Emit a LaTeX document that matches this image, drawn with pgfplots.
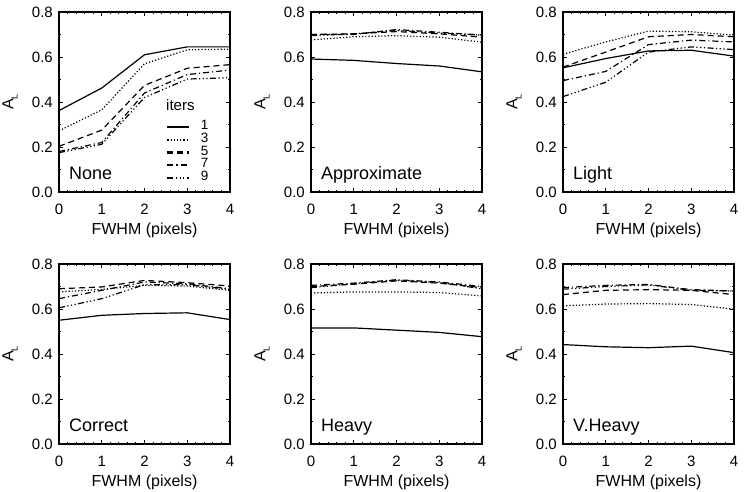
\documentclass[border=0pt]{standalone}
\usepackage{pgfplots}
\pgfplotsset{compat=1.18}
\usepackage{pgfplotstable}
\usepackage{fontspec}
\setmainfont{Liberation Sans}

\pgfplotstableread{
x  a     b     c     d     e
0  0.362 0.272 0.203 0.180 0.175
1  0.462 0.365 0.275 0.220 0.212
2  0.610 0.570 0.474 0.440 0.420
3  0.645 0.632 0.550 0.522 0.502
4  0.645 0.635 0.566 0.542 0.508
}\tNone
\pgfplotstableread{
x  a     b     c     d     e
0  0.591 0.676 0.700 0.700 0.695
1  0.585 0.690 0.703 0.700 0.703
2  0.571 0.695 0.713 0.722 0.718
3  0.560 0.688 0.703 0.710 0.706
4  0.534 0.666 0.688 0.697 0.698
}\tApprox
\pgfplotstableread{
x  a     b     c     d     e
0  0.552 0.612 0.555 0.495 0.424
1  0.593 0.667 0.622 0.536 0.488
2  0.627 0.715 0.690 0.655 0.622
3  0.630 0.712 0.700 0.675 0.645
4  0.604 0.697 0.690 0.667 0.633
}\tLight
\pgfplotstableread{
x  a     b     c     d     e
0  0.550 0.676 0.690 0.646 0.605
1  0.572 0.687 0.698 0.683 0.646
2  0.580 0.705 0.727 0.720 0.708
3  0.583 0.702 0.717 0.712 0.708
4  0.553 0.683 0.702 0.690 0.687
}\tCorrect
\pgfplotstableread{
x  a     b     c     d     e
0  0.516 0.671 0.700 0.705 0.695
1  0.516 0.676 0.710 0.715 0.712
2  0.506 0.676 0.725 0.730 0.728
3  0.496 0.673 0.715 0.720 0.718
4  0.477 0.658 0.695 0.700 0.690
}\tHeavy
\pgfplotstableread{
x  a     b     c     d     e
0  0.442 0.614 0.664 0.695 0.688
1  0.432 0.622 0.683 0.705 0.700
2  0.428 0.624 0.686 0.709 0.707
3  0.435 0.620 0.683 0.686 0.683
4  0.406 0.599 0.664 0.680 0.680
}\tVHeavy

\newcommand{\AL}{A\raisebox{-0.5ex}{\fontsize{9}{9}\selectfont L}}

\pgfplotsset{
  sA/.style={black, line width=1.2pt, solid},
  sB/.style={black, line width=1.2pt, dash pattern=on 1.2pt off 2pt},
  sC/.style={black, line width=1.2pt, dash pattern=on 6pt off 4pt},
  sD/.style={black, line width=1.2pt, dash pattern=on 6pt off 3pt on 1.2pt off 3pt},
  sE/.style={black, line width=1.2pt, dash pattern=on 6pt off 2.5pt on 1.2pt off 2.5pt on 1.2pt off 2.5pt on 1.2pt off 2.5pt},
  panel/.style={
    scale only axis, width=171pt, height=180pt, anchor=south west,
    xmin=0, xmax=4, ymin=0, ymax=0.8,
    xtick={0,1,2,3,4}, ytick={0,0.2,0.4,0.6,0.8},
    minor x tick num=4, minor y tick num=1,
    tick align=inside, major tick length=4pt, minor tick length=2pt,
    axis line style={line width=1.5pt, black},
    every tick/.append style={line width=0.9pt, black},
    /pgf/number format/assume math mode=true,
    every tick label/.append style={font=\fontsize{15}{15}\selectfont},
    yticklabel style={/pgf/number format/fixed, /pgf/number format/fixed zerofill, /pgf/number format/precision=1},
    xticklabel style={inner sep=0pt, anchor=north, yshift=-12pt},
    yticklabel style={inner sep=0pt, anchor=east, xshift=-6pt},
    clip=false,
  },
}
\newcommand{\decor}[1]{%
  \node[anchor=base west, inner sep=0pt, font=\fontsize{18}{18}\selectfont] at ([xshift=10pt,yshift=12pt]rel axis cs:0,0) {#1};
  \node[anchor=center, inner sep=0pt, font=\fontsize{16}{16}\selectfont] at ([yshift=-38pt]rel axis cs:0.5,0) {FWHM (pixels)};
  \node[anchor=center, inner sep=0pt, rotate=90, font=\fontsize{16}{16}\selectfont] at ([xshift=-49pt]rel axis cs:0,0.5) {\AL};
}
\newcommand{\curves}[1]{%
  \addplot[sA] table[x=x,y=a]{#1};
  \addplot[sB] table[x=x,y=b]{#1};
  \addplot[sC] table[x=x,y=c]{#1};
  \addplot[sD] table[x=x,y=d]{#1};
  \addplot[sE] table[x=x,y=e]{#1};
}

\begin{document}
\begin{tikzpicture}
\path[use as bounding box] (0,0) rectangle (750pt,492pt);

\begin{axis}[panel, at={(59pt,300pt)},
  legend image code/.code={\draw[#1, line width=2.2pt] (0pt,0pt) -- (22pt,0pt); \path (33pt,0pt);},
  legend style={at={(rel axis cs:0.626,0.395)}, anchor=north west, draw=none, fill=none,
    inner sep=0pt, row sep=0pt, font=\fontsize{13.5}{13.5}\selectfont,
    nodes={inner sep=0pt, text height=8.8pt, text depth=3.8pt}},
  legend cell align=left]
  \curves{\tNone}
  \legend{1,3,5,7,9}
  \node[anchor=west, inner sep=0pt, font=\fontsize{15}{15}\selectfont] at (rel axis cs:0.626,0.48) {iters};
  \decor{None}
\end{axis}

\begin{axis}[panel, at={(311pt,300pt)}]
  \curves{\tApprox}
  \decor{Approximate}
\end{axis}

\begin{axis}[panel, at={(563pt,300pt)}]
  \curves{\tLight}
  \decor{Light}
\end{axis}

\begin{axis}[panel, at={(59pt,48pt)}]
  \curves{\tCorrect}
  \decor{Correct}
\end{axis}

\begin{axis}[panel, at={(311pt,48pt)}]
  \curves{\tHeavy}
  \decor{Heavy}
\end{axis}

\begin{axis}[panel, at={(563pt,48pt)}]
  \curves{\tVHeavy}
  \decor{V.Heavy}
\end{axis}
\end{tikzpicture}
\end{document}
